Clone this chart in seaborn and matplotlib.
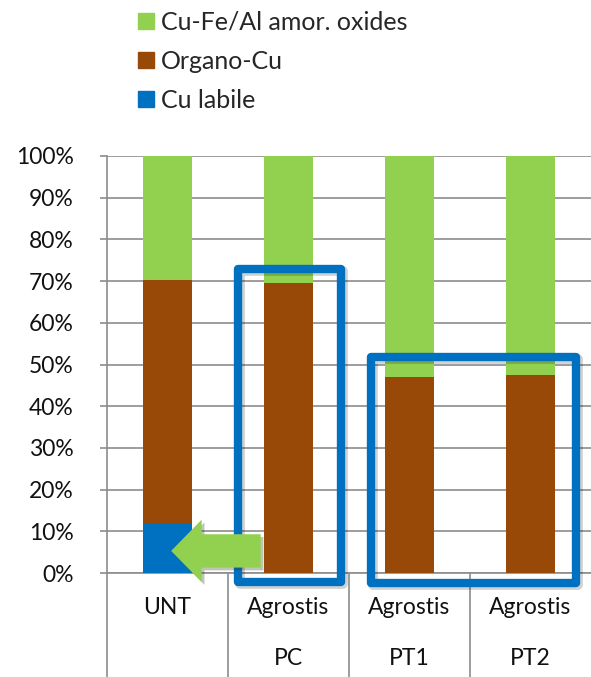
import matplotlib
matplotlib.use("Agg")
import matplotlib.pyplot as plt
import matplotlib.patches as mpatches
import matplotlib.patheffects as pe
import matplotlib.transforms as mtransforms
import seaborn as sns
import pandas as pd

# ---- data ----
keys = ["UNT", "PC", "PT1", "PT2"]
row1_labels = ["UNT", "Agrostis", "Agrostis", "Agrostis"]
row2_labels = ["", "PC", "PT1", "PT2"]
cu_labile = [12.0, 0.0, 0.0, 0.0]
organo_cu = [58.3, 69.5, 47.1, 47.5]
amor_oxides = [29.7, 30.5, 52.9, 52.5]
series_names = ["Cu-Fe/Al amor. oxides", "Organo-Cu", "Cu labile"]
colors = {"Cu-Fe/Al amor. oxides": "#92D050", "Organo-Cu": "#984807", "Cu labile": "#0070C0"}

df = pd.DataFrame({"key": keys, "labile": cu_labile, "organo": organo_cu, "amor": amor_oxides})
df["top_green"] = df["labile"] + df["organo"] + df["amor"]
df["top_brown"] = df["labile"] + df["organo"]
df["top_blue"] = df["labile"]

sns.set_theme(style="white")
plt.rcParams["font.family"] = ["Lato", "DejaVu Sans"]

fig = plt.figure(figsize=(5.91, 6.77), dpi=100)
ax = fig.add_axes([107 / 591, 1 - 573 / 677, (591 - 107) / 591, (573 - 156) / 677])

for col, name in [("top_green", series_names[0]), ("top_brown", series_names[1]), ("top_blue", series_names[2])]:
    sns.barplot(data=df, x="key", y=col, order=keys, color=colors[name], width=0.4,
                saturation=1, edgecolor="none", linewidth=0, ax=ax, zorder=3)

GRID = "#8c8c8c"
FS = 16.5
ax.set_xlim(-0.5, 3.5)
ax.set_ylim(0, 100)
ax.set_yticks(range(0, 101, 10))
ax.set_yticklabels([f"{v}%" for v in range(0, 101, 10)], fontsize=FS, color="#111111")
ax.yaxis.grid(True, color=GRID, linewidth=1.2, zorder=0)
ax.set_axisbelow(True)
ax.tick_params(axis="y", which="major", length=5, width=1.2, color=GRID, left=True, pad=19)
ax.set_xlabel("")
ax.set_ylabel("")
ax.set_xticks([])
for s in ["top", "right"]:
    ax.spines[s].set_visible(False)
for s in ["left", "bottom"]:
    ax.spines[s].set_color(GRID)
    ax.spines[s].set_linewidth(1.2)

# category labels (two levels) and separators
trans = mtransforms.blended_transform_factory(ax.transData, ax.transAxes)
for i, (r1, r2) in enumerate(zip(row1_labels, row2_labels)):
    ax.text(i, -0.082, r1, transform=trans, ha="center", va="center", fontsize=FS, color="#111111")
    ax.text(i, -0.205, r2, transform=trans, ha="center", va="center", fontsize=FS, color="#111111")
for xb in [-0.5, 0.5, 1.5, 2.5]:
    ax.plot([xb, xb], [0, -0.26], transform=trans, color=GRID, linewidth=1.2, clip_on=False)

# highlight rectangles (with soft shadow)
shadow_tr = mtransforms.offset_copy(ax.transData, fig=fig, x=2, y=-2, units="dots")
for (x0, x1, y0, y1) in [(0.579, 1.43, -2.2, 72.9), (1.678, 3.372, -2.4, 51.8)]:
    sh = mpatches.Rectangle((x0, y0), x1 - x0, y1 - y0, fill=False, edgecolor="#000000", alpha=0.18,
                            linewidth=7, joinstyle="round", clip_on=False, zorder=4.5,
                            transform=shadow_tr)
    ax.add_patch(sh)
    r = mpatches.Rectangle((x0, y0), x1 - x0, y1 - y0, fill=False, edgecolor="#0070C0",
                           linewidth=6, joinstyle="round", clip_on=False, zorder=5)
    ax.add_patch(r)

# green arrow
arr = mpatches.FancyArrowPatch((0.77, 5.3), (0.03, 5.3),
                               arrowstyle="simple,head_length=22,head_width=45,tail_width=24",
                               mutation_scale=1, color="#92D050", linewidth=0, zorder=6,
                               shrinkA=0, shrinkB=0, clip_on=False)
arr.set_path_effects([pe.SimplePatchShadow(offset=(2, -2), alpha=0.3), pe.Normal()])
ax.add_patch(arr)

# legend
handles = [mpatches.Patch(color=colors[n], label=n) for n in series_names]
fig.legend(handles=handles, loc="upper left", bbox_to_anchor=(128 / 591, 1 - 1 / 677),
           frameon=False, fontsize=18, handlelength=0.62, handleheight=0.62,
           handletextpad=0.3, labelspacing=0.64, borderaxespad=0)

fig.savefig("out.png", dpi=100)
